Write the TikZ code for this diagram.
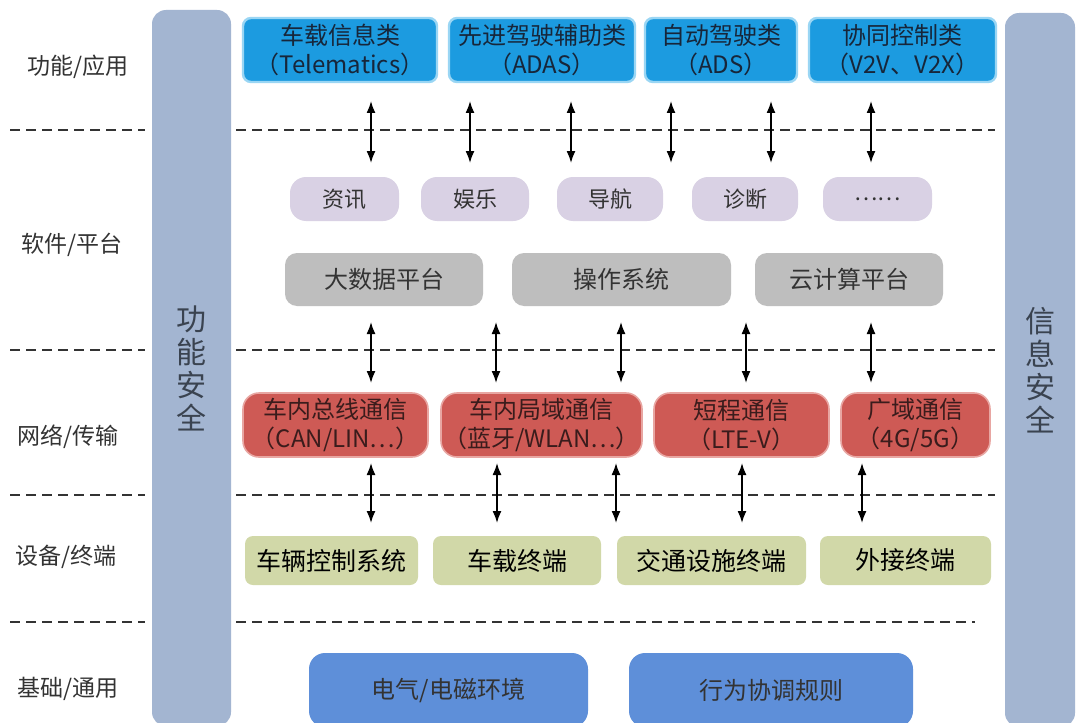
\documentclass[tikz,border=0pt]{standalone}
\usepackage{fontspec}
\setmainfont{Noto Sans CJK SC}
\usetikzlibrary{positioning,arrows.meta}

\definecolor{barblue}{HTML}{A3B5D1}
\definecolor{bartext}{HTML}{3A4350}
\definecolor{labeltext}{HTML}{333333}
\definecolor{dashgray}{HTML}{333333}
\definecolor{appblue}{HTML}{1C9BE0}
\definecolor{appglow}{HTML}{9AD6F4}
\definecolor{apptext}{HTML}{17263A}
\definecolor{svclilac}{HTML}{D9D1E4}
\definecolor{platgray}{HTML}{BEBEBE}
\definecolor{netred}{HTML}{CE5A55}
\definecolor{netglow}{HTML}{E8A6A2}
\definecolor{nettext}{HTML}{3A1C1C}
\definecolor{devgreen}{HTML}{D1D8A8}
\definecolor{basebblue}{HTML}{5E8FD9}

\begin{document}
\begin{tikzpicture}[x=0.5pt,y=-0.5pt,
  safetybar/.style={rectangle,rounded corners=7pt,fill=barblue,text=bartext,align=center,inner sep=0pt,font=\fontsize{15}{16.5}\selectfont},
  layerlabel/.style={text=labeltext,font=\fontsize{11.5}{13}\selectfont},
  layersep/.style={dash pattern=on 5pt off 3pt,line width=0.7pt,draw=dashgray},
  appbox/.style={rectangle,rounded corners=4pt,fill=appblue,draw=appglow,line width=1.2pt,align=center,inner sep=0pt,minimum height=32pt,text=apptext,font=\fontsize{12}{14.5}\selectfont},
  svcbox/.style={rectangle,rounded corners=8pt,fill=svclilac,inner sep=0pt,minimum height=22pt,text=labeltext,font=\fontsize{11}{13}\selectfont},
  platbox/.style={rectangle,rounded corners=6pt,fill=platgray,inner sep=0pt,minimum height=26.5pt,text=labeltext,font=\fontsize{12}{14}\selectfont},
  netbox/.style={rectangle,rounded corners=8pt,fill=netred,draw=netglow,line width=0.8pt,align=center,inner sep=0pt,minimum height=32pt,text=nettext,font=\fontsize{12}{14.5}\selectfont},
  devbox/.style={rectangle,rounded corners=4pt,fill=devgreen,inner sep=0pt,minimum height=24.5pt,text=black,font=\fontsize{12.5}{14}\selectfont},
  basebox/.style={rectangle,rounded corners=8pt,fill=basebblue,inner sep=0pt,minimum height=37pt,text=labeltext,font=\fontsize{12}{14}\selectfont},
  link/.style={{Latex[length=6pt,width=4.5pt]}-{Latex[length=6pt,width=4.5pt]},line width=0.8pt}
]
  \clip (0,0) rectangle (1080,722);
  \fill[white] (0,0) rectangle (1080,722);

  % dashed separators between the layers
  \foreach \y/\e in {130/995,350/995,495/995,622/975} {
    \draw[layersep] (10,\y) -- (145,\y);
    \draw[layersep] (236,\y) -- (\e,\y);
  }

  % layer names
  \node[layerlabel] (lfun) at (78,67) {功能/应用};
  \node[layerlabel] (lsoft) at (72,245) {软件/平台};
  \node[layerlabel] (lnet) at (68,437) {网络/传输};
  \node[layerlabel] (ldev) at (66,557) {设备/终端};
  \node[layerlabel] (lbase) at (68,689) {基础/通用};

  % side bars
  \node[safetybar,minimum width=39.5pt,minimum height=358pt] (funsafe) at (191.5,368) {功\\能\\安\\全};
  \node[safetybar,minimum width=35pt,minimum height=357pt] (infosafe) at (1040,370) {信\\息\\安\\全};

  % applications
  \node[appbox,minimum width=97pt] (tele) at (340,50) {车载信息类\\（Telematics）};
  \node[appbox,minimum width=93pt] (adas) at (542,50) {先进驾驶辅助类\\（ADAS）};
  \node[appbox,minimum width=76pt] (ads) at (721,50) {自动驾驶类\\（ADS）};
  \node[appbox,minimum width=93.5pt] (v2x) at (902.5,50) {协同控制类\\（V2V、V2X）};

  % services and platforms
  \node[svcbox,minimum width=54.5pt] (news) at (344.5,199) {资讯};
  \node[svcbox,minimum width=54pt] (fun) at (475,199) {娱乐};
  \node[svcbox,minimum width=53pt] (navi) at (610,199) {导航};
  \node[svcbox,minimum width=53pt] (diag) at (745,199) {诊断};
  \node[svcbox,minimum width=54.5pt] (more) at (877.5,199) {……};
  \node[platbox,minimum width=99pt] (bigdata) at (384,279.5) {大数据平台};
  \node[platbox,minimum width=109.5pt] (os) at (621.5,279.5) {操作系统};
  \node[platbox,minimum width=94pt] (cloud) at (849,279.5) {云计算平台};

  % networks
  \node[netbox,minimum width=92.5pt] (bus) at (335.5,425) {车内总线通信\\（CAN/LIN…）};
  \node[netbox,minimum width=100.5pt] (lan) at (541.5,425) {车内局域通信\\（蓝牙/WLAN…）};
  \node[netbox,minimum width=87.5pt] (short) at (741.5,425) {短程通信\\（LTE-V）};
  \node[netbox,minimum width=74.5pt] (wide) at (915.5,425) {广域通信\\（4G/5G）};

  % devices
  \node[devbox,minimum width=86.5pt] (ctrl) at (331.5,560.5) {车辆控制系统};
  \node[devbox,minimum width=84pt] (obu) at (517,560.5) {车载终端};
  \node[devbox,minimum width=94.5pt] (rsu) at (711.5,560.5) {交通设施终端};
  \node[devbox,minimum width=85.5pt] (ext) at (905.5,560.5) {外接终端};

  % base
  \node[basebox,minimum width=139.5pt] (emc) at (448.5,690) {电气/电磁环境};
  \node[basebox,minimum width=142pt] (rules) at (771,690) {行为协调规则};

  % two-way arrows between the layers
  \foreach \x [count=\i] in {371,470,571,671,771,871} {
    \coordinate (au\i) at (\x,101);
    \coordinate (ad\i) at (\x,163);
    \draw[link] (au\i) -- (ad\i);
  }
  \foreach \x [count=\i] in {371,496,621,746,871} {
    \coordinate (bu\i) at (\x,322);
    \coordinate (bd\i) at (\x,383);
    \draw[link] (bu\i) -- (bd\i);
  }
  \foreach \x [count=\i] in {371,497,616,742,862} {
    \coordinate (cu\i) at (\x,463);
    \coordinate (cd\i) at (\x,523);
    \draw[link] (cu\i) -- (cd\i);
  }
\end{tikzpicture}
\end{document}
